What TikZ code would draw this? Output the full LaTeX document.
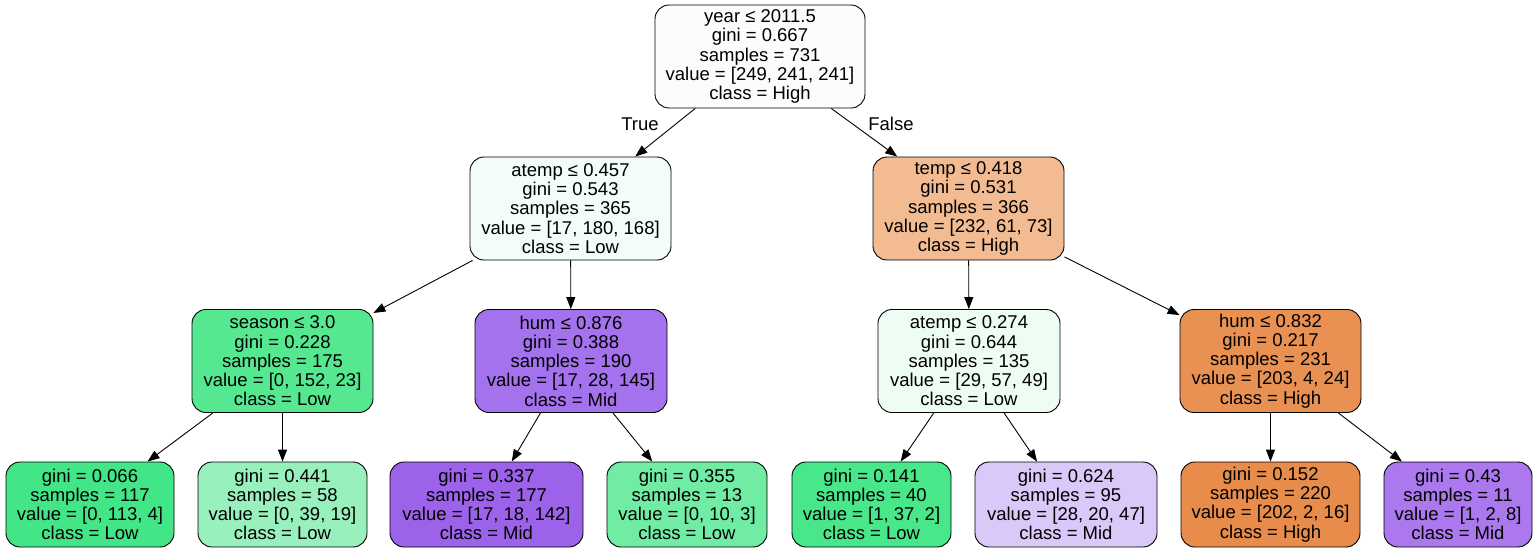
\documentclass[tikz,border=0pt]{standalone}
\usepackage{fontspec}
\setmainfont{Liberation Sans}
\usetikzlibrary{arrows.meta}
\definecolor{cRoot}{HTML}{FEFCFA}
\definecolor{cA}{HTML}{F1FDF6}
\definecolor{cB}{HTML}{F2BB91}
\definecolor{cC}{HTML}{55E891}
\definecolor{cD}{HTML}{A572EE}
\definecolor{cE}{HTML}{EEFDF3}
\definecolor{cF}{HTML}{E89152}
\definecolor{cL1}{HTML}{43E687}
\definecolor{cL2}{HTML}{98F1BD}
\definecolor{cL3}{HTML}{9C63EA}
\definecolor{cL4}{HTML}{70ECA4}
\definecolor{cL5}{HTML}{47E78A}
\definecolor{cL6}{HTML}{DAC8F8}
\definecolor{cL7}{HTML}{E78C4A}
\definecolor{cL8}{HTML}{AB78EE}
\begin{document}
\begin{tikzpicture}[x=1pt,y=-1pt,
  tn/.style={draw=black, line width=0.9pt, rounded corners=14pt, align=center,
    inner sep=0pt, font=\fontsize{18.5}{19.2}\selectfont},
  inode/.style={tn, minimum height=103pt},
  leaf/.style={tn, minimum height=85pt},
  edge/.style={line width=0.9pt, -{Triangle[length=12pt,width=9pt]}},
  lab/.style={font=\fontsize{18.5}{19.2}\selectfont}]
\useasboundingbox (0,0) rectangle (1539,552);
\node[inode, fill=cRoot, minimum width=210pt] (root) at (760,56.5)
  {year ≤ 2011.5\\gini = 0.667\\samples = 731\\value = [249, 241, 241]\\class = High};
\node[inode, fill=cA, minimum width=201pt] (a) at (570.5,208.5)
  {atemp ≤ 0.457\\gini = 0.543\\samples = 365\\value = [17, 180, 168]\\class = Low};
\node[inode, fill=cB, minimum width=191pt] (b) at (968.5,208.5)
  {temp ≤ 0.418\\gini = 0.531\\samples = 366\\value = [232, 61, 73]\\class = High};
\node[inode, fill=cC, minimum width=181pt] (c) at (282.5,361)
  {season ≤ 3.0\\gini = 0.228\\samples = 175\\value = [0, 152, 23]\\class = Low};
\node[inode, fill=cD, minimum width=192pt] (d) at (571,361)
  {hum ≤ 0.876\\gini = 0.388\\samples = 190\\value = [17, 28, 145]\\class = Mid};
\node[inode, fill=cE, minimum width=182pt] (e) at (969,361)
  {atemp ≤ 0.274\\gini = 0.644\\samples = 135\\value = [29, 57, 49]\\class = Low};
\node[inode, fill=cF, minimum width=181pt] (f) at (1270.5,361)
  {hum ≤ 0.832\\gini = 0.217\\samples = 231\\value = [203, 4, 24]\\class = High};
\node[leaf, fill=cL1, minimum width=168pt] (l1) at (90,504.5)
  {gini = 0.066\\samples = 117\\value = [0, 113, 4]\\class = Low};
\node[leaf, fill=cL2, minimum width=169pt] (l2) at (282.5,504.5)
  {gini = 0.441\\samples = 58\\value = [0, 39, 19]\\class = Low};
\node[leaf, fill=cL3, minimum width=193pt] (l3) at (486.5,504.5)
  {gini = 0.337\\samples = 177\\value = [17, 18, 142]\\class = Mid};
\node[leaf, fill=cL4, minimum width=160pt] (l4) at (687,504.5)
  {gini = 0.355\\samples = 13\\value = [0, 10, 3]\\class = Low};
\node[leaf, fill=cL5, minimum width=159pt] (l5) at (871.5,504.5)
  {gini = 0.141\\samples = 40\\value = [1, 37, 2]\\class = Low};
\node[leaf, fill=cL6, minimum width=182pt] (l6) at (1066,504.5)
  {gini = 0.624\\samples = 95\\value = [28, 20, 47]\\class = Mid};
\node[leaf, fill=cL7, minimum width=179pt] (l7) at (1270.5,504.5)
  {gini = 0.152\\samples = 220\\value = [202, 2, 16]\\class = High};
\node[leaf, fill=cL8, minimum width=148pt] (l8) at (1458,504.5)
  {gini = 0.43\\samples = 11\\value = [1, 2, 8]\\class = Mid};
\draw[edge] (root) -- (a);
\draw[edge] (root) -- (b);
\draw[edge] (a) -- (c);
\draw[edge] (a) -- (d);
\draw[edge] (b) -- (e);
\draw[edge] (b) -- (f);
\draw[edge] (c) -- (l1);
\draw[edge] (c) -- (l2);
\draw[edge] (d) -- (l3);
\draw[edge] (d) -- (l4);
\draw[edge] (e) -- (l5);
\draw[edge] (e) -- (l6);
\draw[edge] (f) -- (l7);
\draw[edge] (f) -- (l8);
\node[lab] (tl) at (640,124) {True};
\node[lab] (fl) at (891,124) {False};
\end{tikzpicture}
\end{document}
